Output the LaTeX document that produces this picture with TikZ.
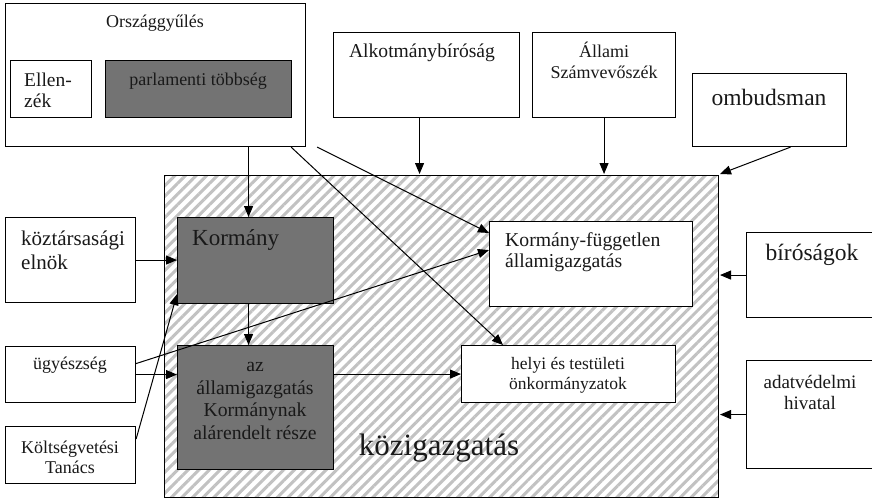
\documentclass[tikz,border=0pt]{standalone}
\usepackage{fontspec}
\setmainfont{Liberation Serif}
\usetikzlibrary{arrows.meta,patterns.meta}
\definecolor{darkfill}{gray}{0.45}
\definecolor{hatch}{gray}{0.76}
\tikzset{
  box/.style={draw, line width=1.1pt, anchor=north west, inner sep=0pt, fill=white},
  darkbox/.style={box, fill=darkfill},
  hatchbox/.style={box, pattern={Lines[angle=45, distance=7.5pt, line width=3pt]}, pattern color=hatch},
  txt/.style={inner sep=0pt, align=center, text=black!90, font=\fontsize{18}{21}\selectfont},
  bigtxt/.style={txt, font=\fontsize{23.5}{27}\selectfont},
  arr/.style={-{Triangle[length=11pt,width=9pt]}, line width=1pt}
}
\begin{document}
\begin{tikzpicture}[x=1pt, y=-1pt]
\fill[white] (0,0) rectangle (872,499);
\useasboundingbox (0,0) rectangle (872,499);
% the frame of public administration
\node[hatchbox, minimum width=554pt, minimum height=322pt] (kozig) at (163,174) {};
\node[txt, font=\fontsize{31}{35}\selectfont] (kozig-t) at (439,448) {közigazgatás};
% parliament
\node[box, minimum width=300pt, minimum height=143pt] (orsz) at (5,3) {};
\node[txt] (orsz-t) at (155,23) {Országgyűlés};
\node[box, minimum width=81pt, minimum height=57pt] (ell) at (10,60) {};
\node[txt, align=left, anchor=west, font=\fontsize{19.5}{21}\selectfont] (ell-t) at (24,90) {Ellen-\\zék};
\node[darkbox, minimum width=186pt, minimum height=57pt] (parl) at (105,60) {};
\node[txt] (parl-t) at (198,81) {parlamenti többség};
% control bodies on top
\node[box, minimum width=186pt, minimum height=85pt] (alk) at (333,32) {};
\node[txt, font=\fontsize{19.6}{22}\selectfont] (alk-t) at (422,53) {Alkotmánybíróság};
\node[box, minimum width=143pt, minimum height=85pt] (asz) at (532,32) {};
\node[txt] (asz-t) at (604,60) {Állami\\Számvevőszék};
\node[box, minimum width=154pt, minimum height=73pt] (omb) at (692,73) {};
\node[bigtxt] (omb-t) at (769,97) {ombudsman};
% inside the frame
\node[darkbox, minimum width=156pt, minimum height=86pt] (korm) at (177,217) {};
\node[txt, anchor=west, font=\fontsize{23}{27}\selectfont] (korm-t) at (192,240) {Kormány};
\node[darkbox, minimum width=156pt, minimum height=124pt] (azall) at (177,345) {};
\node[txt, font=\fontsize{19.7}{22.7}\selectfont] (azall-t) at (255,401) {az\\államigazgatás\\Kormánynak\\alárendelt része};
\node[box, minimum width=203pt, minimum height=85pt] (kfugg) at (489,221) {};
\node[txt, align=left, anchor=west, font=\fontsize{19.7}{21}\selectfont] (kfugg-t) at (505,252) {Kormány-független\\államigazgatás};
\node[box, minimum width=214pt, minimum height=57pt] (helyi) at (461,345) {};
\node[txt, font=\fontsize{17.5}{20}\selectfont] (helyi-t) at (568,375) {helyi és testületi\\önkormányzatok};
% left column
\node[box, minimum width=130pt, minimum height=85pt] (ktel) at (5,217) {};
\node[txt, align=left, anchor=west, font=\fontsize{21}{24}\selectfont] (ktel-t) at (21,250) {köztársasági\\elnök};
\node[box, minimum width=130pt, minimum height=56pt] (ugy) at (5,346) {};
\node[txt] (ugy-t) at (70,365) {ügyészség};
\node[box, minimum width=130pt, minimum height=57pt] (kvt) at (5,426) {};
\node[txt, font=\fontsize{18}{20}\selectfont] (kvt-t) at (70,457) {Költségvetési\\Tanács};
% right column
\node[box, minimum width=134pt, minimum height=85pt] (bir) at (746,232) {};
\node[bigtxt] (bir-t) at (812,255) {bíróságok};
\node[box, minimum width=134pt, minimum height=108pt] (adat) at (746,360) {};
\node[txt, font=\fontsize{19}{21}\selectfont] (adat-t) at (810,392) {adatvédelmi\\hivatal};
% connectors
\draw[arr] ([xshift=-7pt]korm.north |- orsz.south) -- ([xshift=-7pt]korm.north);
\draw[arr] ([xshift=-7pt]korm.south) -- ([xshift=-7pt]azall.north);
\draw[arr] ([xshift=11pt]orsz.south east) -- ([yshift=-12pt]kfugg.north west);
\draw[arr] ([xshift=-15pt]orsz.south east) -- ([xshift=42pt]helyi.north west);
\draw[arr] ([xshift=-7pt]alk.south) -- ([xshift=-7pt]alk.south |- kozig.north);
\draw[arr] (asz.south) -- (asz.south |- kozig.north);
\draw[arr] ([xshift=21pt]omb.south) -- (kozig.north east);
\draw[arr] (ktel.east) -- (ktel.east -| korm.west);
\draw[arr] (ugy.east) -- (ugy.east -| azall.west);
\draw[arr] ([yshift=11pt]ugy.east) -- ([yshift=14pt]kfugg.west);
\draw[arr] ([yshift=16pt]kvt.east) -- ([yshift=10pt]korm.south west);
\draw[arr] (azall.east |- helyi.west) -- (helyi.west);
\draw[arr] (bir.west) -- (bir.west -| kozig.east);
\draw[arr] (adat.west) -- (adat.west -| kozig.east);
\end{tikzpicture}
\end{document}
